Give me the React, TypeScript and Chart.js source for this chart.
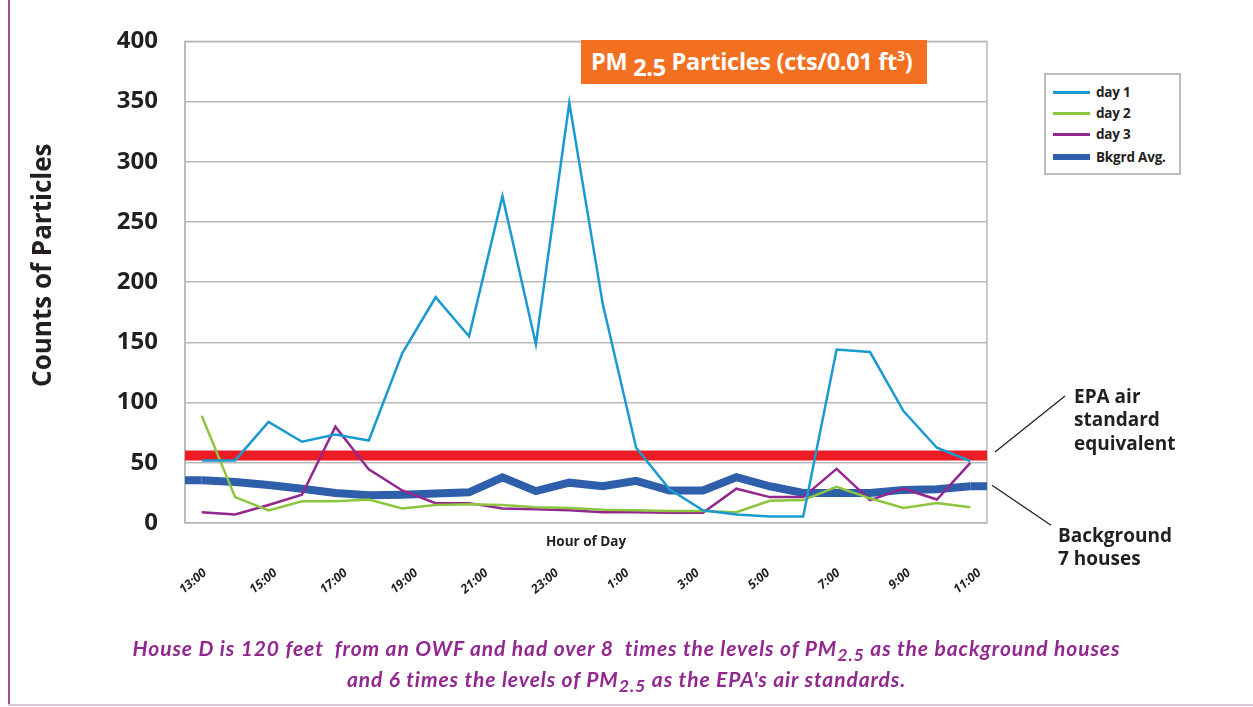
import React, { useEffect, useRef } from 'react';
import { Chart, registerables } from 'chart.js';

Chart.register(...registerables);

// ---------- data ----------
const HOURS = [
  '13:00', '14:00', '15:00', '16:00', '17:00', '18:00', '19:00', '20:00',
  '21:00', '22:00', '23:00', '0:00', '1:00', '2:00', '3:00', '4:00',
  '5:00', '6:00', '7:00', '8:00', '9:00', '10:00', '11:00', '12:00',
];
const X_TICK_LABELS = ['13:00', '15:00', '17:00', '19:00', '21:00', '23:00', '1:00', '3:00', '5:00', '7:00', '9:00', '11:00'];

const DAY1 = [52, 52, 84, 67.5, 73.5, 68.5, 141, 187.5, 155, 271.5, 148.5, 349, 182, 62.5, 28, 10.5, 7, 5.5, 5.5, 144, 142, 93, 62.5, 51.5];
const DAY2 = [89, 21.5, 10.5, 18, 18, 19.5, 12, 15, 15.5, 15, 13, 12.5, 11, 10.5, 10, 10, 9, 18.5, 19, 30, 20.5, 12.5, 16.5, 13];
const DAY3 = [9, 7, 15, 23.5, 80, 44.5, 27, 16.5, 16.5, 12, 11.5, 10.5, 9, 9, 8.5, 8.5, 28.5, 21.5, 21.5, 45, 19, 28.5, 19.5, 50];
const BKGRD = [35.5, 34, 31.5, 28.5, 25, 23, 23.5, 24.5, 25.5, 38, 26.5, 33.5, 30.5, 35, 27, 27, 38, 30.5, 25, 25, 25, 27.5, 28, 30.5];
const EPA_STANDARD = 56;

const SERIES_NAMES = ['day 1', 'day 2', 'day 3', 'Bkgrd Avg.'];
const SERIES_COLORS = ['#1A9AD0', '#8CC63F', '#93278F', '#2F5EAA'];
const SERIES_WIDTHS = [2.5, 2.5, 2.5, 8];
const EPA_COLOR = '#ED1C24';

const Y_MIN = 0;
const Y_MAX = 400;
const Y_STEP = 50;

const TEXT = '#231F20';
const GRID = '#B9B9B9';
const FONT = '"Open Sans", Lato, sans-serif';
const FONT_LATO = 'Lato, "Open Sans", sans-serif';

const overlayPlugin = {
  id: 'overlay',
  beforeDatasetsDraw(chart: any) {
    const { ctx, chartArea: a, scales } = chart;
    const y = scales.y;
    const x = scales.x;
    ctx.save();
    // plot frame
    ctx.strokeStyle = GRID;
    ctx.lineWidth = 1.5;
    ctx.strokeRect(a.left, a.top, a.right - a.left, a.bottom - a.top);
    // EPA standard band
    const yE = y.getPixelForValue(EPA_STANDARD);
    ctx.strokeStyle = EPA_COLOR;
    ctx.lineWidth = 10;
    ctx.beginPath();
    ctx.moveTo(a.left, yE);
    ctx.lineTo(a.right, yE);
    ctx.stroke();
    // background average continues to the plot edges
    ctx.strokeStyle = SERIES_COLORS[3];
    ctx.lineWidth = SERIES_WIDTHS[3];
    ctx.beginPath();
    ctx.moveTo(a.left, y.getPixelForValue(BKGRD[0]));
    ctx.lineTo(x.getPixelForValue(0), y.getPixelForValue(BKGRD[0]));
    ctx.moveTo(x.getPixelForValue(BKGRD.length - 1), y.getPixelForValue(BKGRD[BKGRD.length - 1]));
    ctx.lineTo(a.right, y.getPixelForValue(BKGRD[BKGRD.length - 1]));
    ctx.stroke();
    ctx.restore();
  },
  afterDraw(chart: any) {
    const { ctx, chartArea: a, scales } = chart;
    const y = scales.y;
    const yE = y.getPixelForValue(EPA_STANDARD);
    const yB = y.getPixelForValue(BKGRD[BKGRD.length - 1]);
    ctx.save();
    // y axis title
    ctx.fillStyle = TEXT;
    ctx.font = `bold 26px ${FONT}`;
    ctx.textAlign = 'center';
    ctx.textBaseline = 'middle';
    ctx.translate(44, (a.top + a.bottom) / 2 - 17);
    ctx.rotate(-Math.PI / 2);
    ctx.fillText('Counts of Particles', 0, 0);
    ctx.setTransform(1, 0, 0, 1, 0, 0);

    // annotations
    ctx.font = `bold 19px ${FONT}`;
    ctx.textAlign = 'left';
    ctx.textBaseline = 'alphabetic';
    const ex = a.right + 87;
    ctx.fillText('EPA air', ex, yE - 53);
    ctx.fillText('standard', ex, yE - 29.5);
    ctx.fillText('equivalent', ex, yE - 6);
    const bx = a.right + 71;
    ctx.fillText('Background', bx, yB + 56);
    ctx.fillText('7 houses', bx, yB + 79);

    ctx.strokeStyle = TEXT;
    ctx.lineWidth = 1.3;
    ctx.beginPath();
    ctx.moveTo(a.right + 8, yE - 3.5);
    ctx.lineTo(a.right + 78, yE - 59.5);
    ctx.moveTo(a.right + 5, yB - 1);
    ctx.lineTo(a.right + 64, yB + 39);
    ctx.stroke();
    ctx.restore();
  },
};

export default function App() {
  const ref = useRef<HTMLCanvasElement>(null);

  useEffect(() => {
    document.body.style.margin = '0';
    const series = [DAY1, DAY2, DAY3, BKGRD];
    const chart = new Chart(ref.current as HTMLCanvasElement, {
      type: 'line',
      data: {
        labels: HOURS,
        datasets: series.map((d, i) => ({
          label: SERIES_NAMES[i],
          data: d,
          borderColor: SERIES_COLORS[i],
          backgroundColor: SERIES_COLORS[i],
          borderWidth: SERIES_WIDTHS[i],
          pointRadius: 0,
          tension: 0,
          fill: false,
          xAxisID: 'x',
          yAxisID: 'y',
        })),
      },
      options: {
        responsive: false,
        animation: false,
        devicePixelRatio: 1,
        layout: { padding: { left: 0, top: 40, right: 266, bottom: 94 } },
        plugins: {
          legend: { display: false },
          tooltip: { enabled: false },
          title: { display: false },
        },
        scales: {
          x: {
            type: 'category',
            display: false,
            offset: true,
          },
          xTitle: {
            type: 'linear',
            position: 'bottom',
            weight: 0,
            min: 0,
            max: 1,
            grid: { display: false, drawTicks: false },
            border: { display: false },
            ticks: { display: false },
            title: {
              display: true,
              text: 'Hour of Day',
              color: TEXT,
              font: { family: FONT, size: 13.5, weight: 'bold' },
              padding: { top: 0, bottom: 3 },
            },
            afterFit: (s: any) => { s.height = 30; },
          },
          xLabels: {
            type: 'linear',
            position: 'bottom',
            weight: 1,
            min: -0.284,
            max: X_TICK_LABELS.length - 1 + 0.108,
            grid: { display: false, drawTicks: false },
            border: { display: false },
            afterBuildTicks: (s: any) => {
              s.ticks = X_TICK_LABELS.map((_, i) => ({ value: i }));
            },
            ticks: {
              autoSkip: false,
              minRotation: 40,
              maxRotation: 40,
              padding: 12.6,
              color: TEXT,
              font: { family: FONT, size: 12.5, weight: 'bold', style: 'italic' },
              callback: (_v: any, i: number) => X_TICK_LABELS[i],
            },
            afterFit: (s: any) => { s.height = 60; },
          },
          y: {
            type: 'linear',
            min: Y_MIN,
            max: Y_MAX,
            ticks: {
              stepSize: Y_STEP,
              padding: 27,
              color: TEXT,
              font: { family: FONT, size: 24, weight: 'bold' },
            },
            grid: { color: GRID, lineWidth: 1.5, drawTicks: false },
            border: { display: true, color: GRID, width: 1.5 },
            afterFit: (s: any) => { s.width = 185; },
          },
        },
      },
      plugins: [overlayPlugin],
    } as any);
    return () => chart.destroy();
  }, []);

  const legendRows = [19.3, 40.3, 61.3, 84.3];

  return (
    <div style={{ position: 'relative', width: 1253, height: 707, background: '#fff', overflow: 'hidden', fontFamily: FONT }}>
      <canvas ref={ref} width={1253} height={707} style={{ position: 'absolute', left: 0, top: 0, width: 1253, height: 707 }} />
      {/* page frame */}
      <div style={{ position: 'absolute', left: 8, top: 0, width: 1.5, height: 706, background: '#A24DA2' }} />
      <div style={{ position: 'absolute', left: 8, top: 704, width: 1245, height: 2, background: '#DDC4DD' }} />

      {/* title box */}
      <div
        style={{
          position: 'absolute', left: 581, top: 40, width: 346, height: 44, background: '#F37021',
          color: '#fff', fontWeight: 700, fontSize: 23.5, lineHeight: '42px', paddingLeft: 10,
          boxSizing: 'border-box', whiteSpace: 'nowrap', letterSpacing: -0.3, overflow: 'hidden',
        }}
      >
        PM <span style={{ position: 'relative', top: 6 }}>2.5</span> Particles (cts/0.01 ft
        <span style={{ fontSize: '0.6em', position: 'relative', top: -9 }}>3</span>)
      </div>

      {/* legend */}
      <div
        style={{
          position: 'absolute', left: 1044, top: 73, width: 137, height: 102, border: '2px solid #BDBDBD',
          boxSizing: 'border-box', background: '#fff',
        }}
      >
        {SERIES_NAMES.map((name, i) => (
          <div key={name}>
            <div
              style={{
                position: 'absolute', left: 7, top: legendRows[i] - 2 - (i === 3 ? 3 : 1.25), width: 37,
                height: i === 3 ? 6 : 2.5, background: SERIES_COLORS[i],
              }}
            />
            <div
              style={{
                position: 'absolute', left: 50, top: legendRows[i] - 2 - 10, height: 20, lineHeight: '20px',
                fontSize: 13.5, fontWeight: 700, color: TEXT, whiteSpace: 'nowrap', letterSpacing: -0.2,
              }}
            >
              {name}
            </div>
          </div>
        ))}
      </div>

      {/* caption */}
      <div
        style={{
          position: 'absolute', left: 0, top: 633, width: 1253, textAlign: 'center', color: '#92278F',
          fontFamily: FONT_LATO, fontWeight: 700, fontStyle: 'italic', fontSize: 21, lineHeight: '29px',
          whiteSpace: 'pre', letterSpacing: 0.9,
        }}
      >
        <div>
          {'House D is 120 feet  from an OWF and had over 8  times the levels of PM'}
          <span style={{ fontSize: '0.85em', position: 'relative', top: 5 }}>2.5</span>
          {' as the background houses'}
        </div>
        <div>
          {'and 6 times the levels of PM'}
          <span style={{ fontSize: '0.85em', position: 'relative', top: 5 }}>2.5</span>
          {" as the EPA's air standards."}
        </div>
      </div>
    </div>
  );
}
